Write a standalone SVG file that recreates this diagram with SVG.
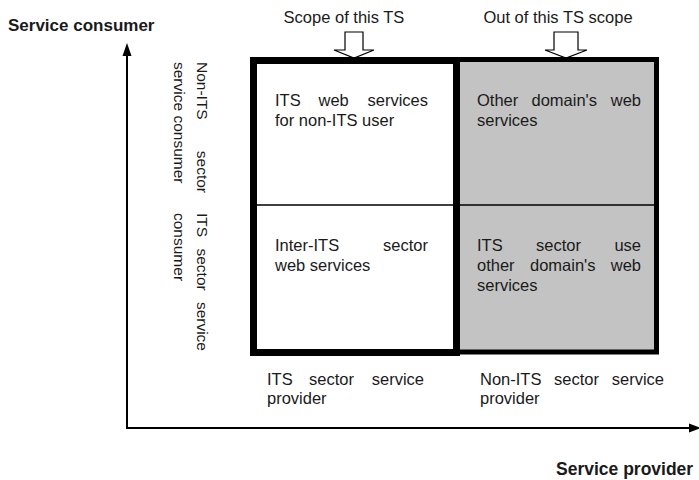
<svg xmlns="http://www.w3.org/2000/svg" width="699" height="480" viewBox="0 0 699 480">
<defs>
<style>
text{font-family:"Liberation Sans",Arial,sans-serif;fill:#1a1a1a}
.b{font-weight:bold;font-size:17px}
.t{font-size:16.5px}
.c{font-size:16.5px}
.v{font-size:15.5px}
.ax{stroke:#000;stroke-width:2;fill:none}
.blk{fill:#fff;stroke:#000;stroke-width:1.2}
</style>
</defs>
<rect width="699" height="480" fill="#fff"/>
<g id="axes">
<line class="ax" x1="127" y1="54" x2="127" y2="428"/>
<line class="ax" x1="126" y1="428" x2="690" y2="428"/>
<polygon points="127,43 122.5,56 131.5,56" fill="#000"/>
<polygon points="701,428 689,423.5 689,432.5" fill="#000"/>
</g>
<g id="axis-labels">
<text class="b" x="8" y="31">Service consumer</text>
<text class="b" x="556" y="475" style="font-size:17.5px">Service provider</text>
</g>
<g id="scope-in">
<text class="t" x="344" y="23" text-anchor="middle">Scope of this TS</text>
<polygon class="blk" points="345,32 363,32 363,50 374,50 354,58 334,50 345,50"/>
</g>
<g id="scope-out">
<text class="t" x="558" y="23" text-anchor="middle">Out of this TS scope</text>
<polygon class="blk" points="554,32 578,32 578,50 587,50 566,58 545,50 554,50"/>
</g>
<g id="other-box">
<rect x="457.5" y="59.5" width="199" height="292.5" fill="#c3c3c3" stroke="#000" stroke-width="5"/>
</g>
<g id="its-box">
<rect x="253.5" y="60.5" width="203" height="292" fill="#fff" stroke="#000" stroke-width="7"/>
</g>
<g id="divider">
<line x1="257" y1="205" x2="655" y2="205" stroke="#000" stroke-width="1.5"/>
</g>
<g id="cell-its-nonits">
<text class="c"><tspan x="275" y="106">ITS</tspan><tspan x="318.5" y="106">web</tspan><tspan x="428" y="106" text-anchor="end">services</tspan></text>
<text class="c" x="275" y="126">for non-ITS user</text>
</g>
<g id="cell-other-web">
<text class="c"><tspan x="477" y="106">Other</tspan><tspan x="531.5" y="106">domain's</tspan><tspan x="641" y="106" text-anchor="end">web</tspan></text>
<text class="c" x="477" y="126">services</text>
</g>
<g id="cell-inter-its">
<text class="c"><tspan x="275" y="251">Inter-ITS</tspan><tspan x="428" y="251" text-anchor="end">sector</tspan></text>
<text class="c" x="275" y="271">web services</text>
</g>
<g id="cell-its-other">
<text class="c"><tspan x="477" y="251">ITS</tspan><tspan x="536" y="251">sector</tspan><tspan x="641" y="251" text-anchor="end">use</tspan></text>
<text class="c"><tspan x="477" y="271">other</tspan><tspan x="530" y="271">domain's</tspan><tspan x="641" y="271" text-anchor="end">web</tspan></text>
<text class="c" x="477" y="291">services</text>
</g>
<g id="provider-its">
<text class="c"><tspan x="267" y="385">ITS</tspan><tspan x="309" y="385">sector</tspan><tspan x="424" y="385" text-anchor="end">service</tspan></text>
<text class="c" x="267" y="404">provider</text>
</g>
<g id="provider-nonits">
<text class="c"><tspan x="480" y="385">Non-ITS</tspan><tspan x="554" y="385">sector</tspan><tspan x="664" y="385" text-anchor="end">service</tspan></text>
<text class="c" x="480" y="404">provider</text>
</g>
<g id="consumer-nonits">
<text class="v" transform="translate(197,62) rotate(90)"><tspan x="0" y="0">Non-ITS</tspan><tspan x="131" y="0" text-anchor="end">sector</tspan></text>
<text class="v" transform="translate(174,62) rotate(90)">service consumer</text>
</g>
<g id="consumer-its">
<text class="v" transform="translate(197,213) rotate(90)"><tspan x="0" y="0">ITS</tspan><tspan x="35.5" y="0">sector</tspan><tspan x="138" y="0" text-anchor="end">service</tspan></text>
<text class="v" transform="translate(174,213) rotate(90)">consumer</text>
</g>
</svg>
